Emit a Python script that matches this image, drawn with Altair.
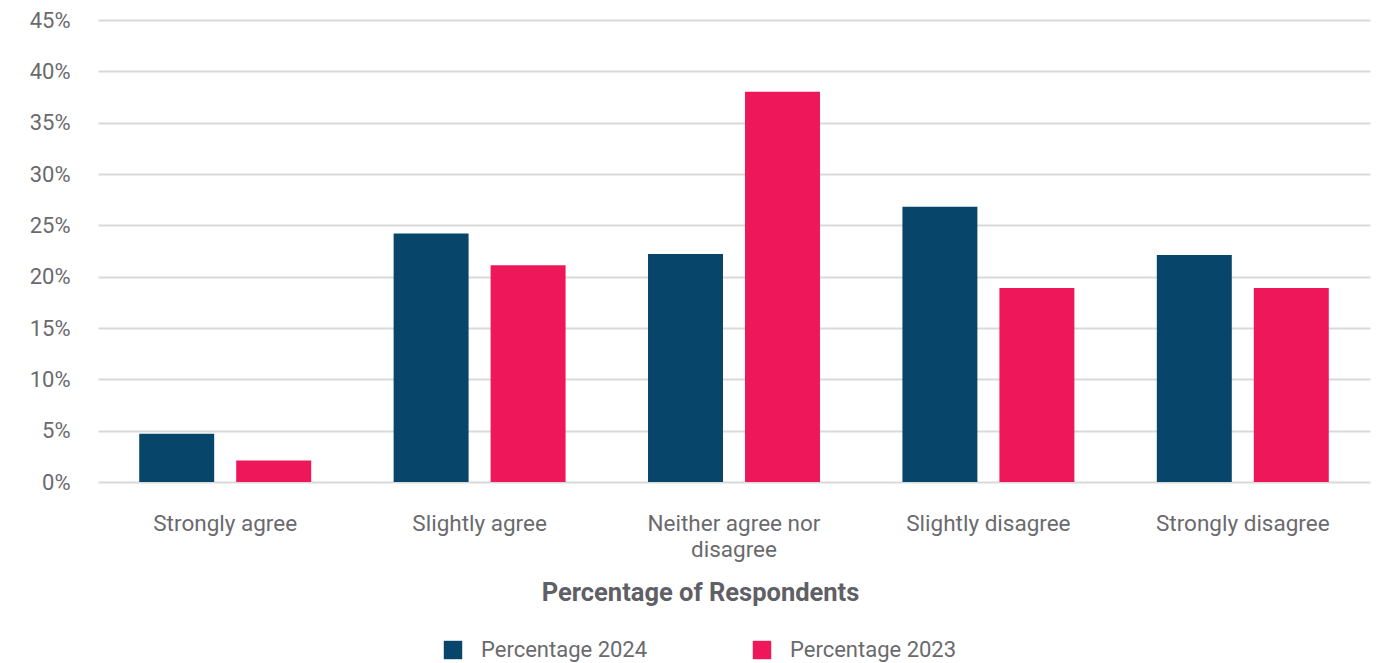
import altair as alt
import pandas as pd

# Survey response categories, in display order
categories = [
    "Strongly agree",
    "Slightly agree",
    "Neither agree nor disagree",
    "Slightly disagree",
    "Strongly disagree",
]
series = ["Percentage 2024", "Percentage 2023"]
pct_2024 = [0.047, 0.242, 0.222, 0.268, 0.221]
pct_2023 = [0.021, 0.211, 0.380, 0.189, 0.189]
colors = ["#08456B", "#EE1759"]

rows = []
for cat, a, b in zip(categories, pct_2024, pct_2023):
    rows.append({"category": cat, "series": series[0], "value": a})
    rows.append({"category": cat, "series": series[1], "value": b})
df = pd.DataFrame(rows)

FONT = "Roboto"
TEXT = "#6A6A6E"

chart = (
    alt.Chart(df)
    .mark_bar()
    .encode(
        x=alt.X(
            "category:N",
            sort=categories,
            scale=alt.Scale(paddingInner=0, paddingOuter=0),
            axis=alt.Axis(
                title="Percentage of Respondents",
                titleFont=FONT,
                titleFontSize=25.5,
                titleFontWeight="bold",
                titleColor="#5F6065",
                titleX=602,
                titleY=110,
                titleBaseline="middle",
                labelFont=FONT,
                labelFontSize=22.5,
                labelColor=TEXT,
                labelAngle=0,
                labelPadding=30,
                labelBaseline="top",
                labelLineHeight=26,
                labelLimit=400,
                labelExpr="datum.value == 'Neither agree nor disagree' ? ['Neither agree nor', 'disagree'] : datum.value",
                ticks=False,
                domain=False,
                grid=False,
            ),
        ),
        xOffset=alt.XOffset(
            "series:N",
            sort=series,
            scale=alt.Scale(paddingInner=0.227, paddingOuter=0.425),
        ),
        y=alt.Y(
            "value:Q",
            scale=alt.Scale(domain=[0, 0.45], nice=False),
            axis=alt.Axis(
                title=None,
                format=".0%",
                values=[0, 0.05, 0.10, 0.15, 0.20, 0.25, 0.30, 0.35, 0.40, 0.45],
                labelFont=FONT,
                labelFontSize=22,
                labelColor=TEXT,
                labelPadding=28,
                ticks=False,
                domain=False,
                gridColor="#D9D9D9",
                gridWidth=2,
            ),
        ),
        color=alt.Color(
            "series:N",
            sort=series,
            scale=alt.Scale(domain=series, range=colors),
            legend=alt.Legend(
                title=None,
                orient="none",
                direction="horizontal",
                legendX=344,
                legendY=619,
                symbolType="square",
                symbolSize=340,
                symbolStrokeWidth=0,
                symbolOpacity=1,
                labelFont=FONT,
                labelFontSize=22,
                labelColor=TEXT,
                labelOffset=17,
                labelLimit=400,
                columnPadding=103,
            ),
        ),
    )
    .properties(
        width=1272,
        height=462,
        background="white",
        autosize=alt.AutoSizeParams(type="none"),
        padding={"left": 98, "top": 20, "right": 19, "bottom": 181},
    )
    .configure_view(strokeWidth=0)
)

chart.save("out.html", embed_options={"renderer": "svg", "actions": False})
